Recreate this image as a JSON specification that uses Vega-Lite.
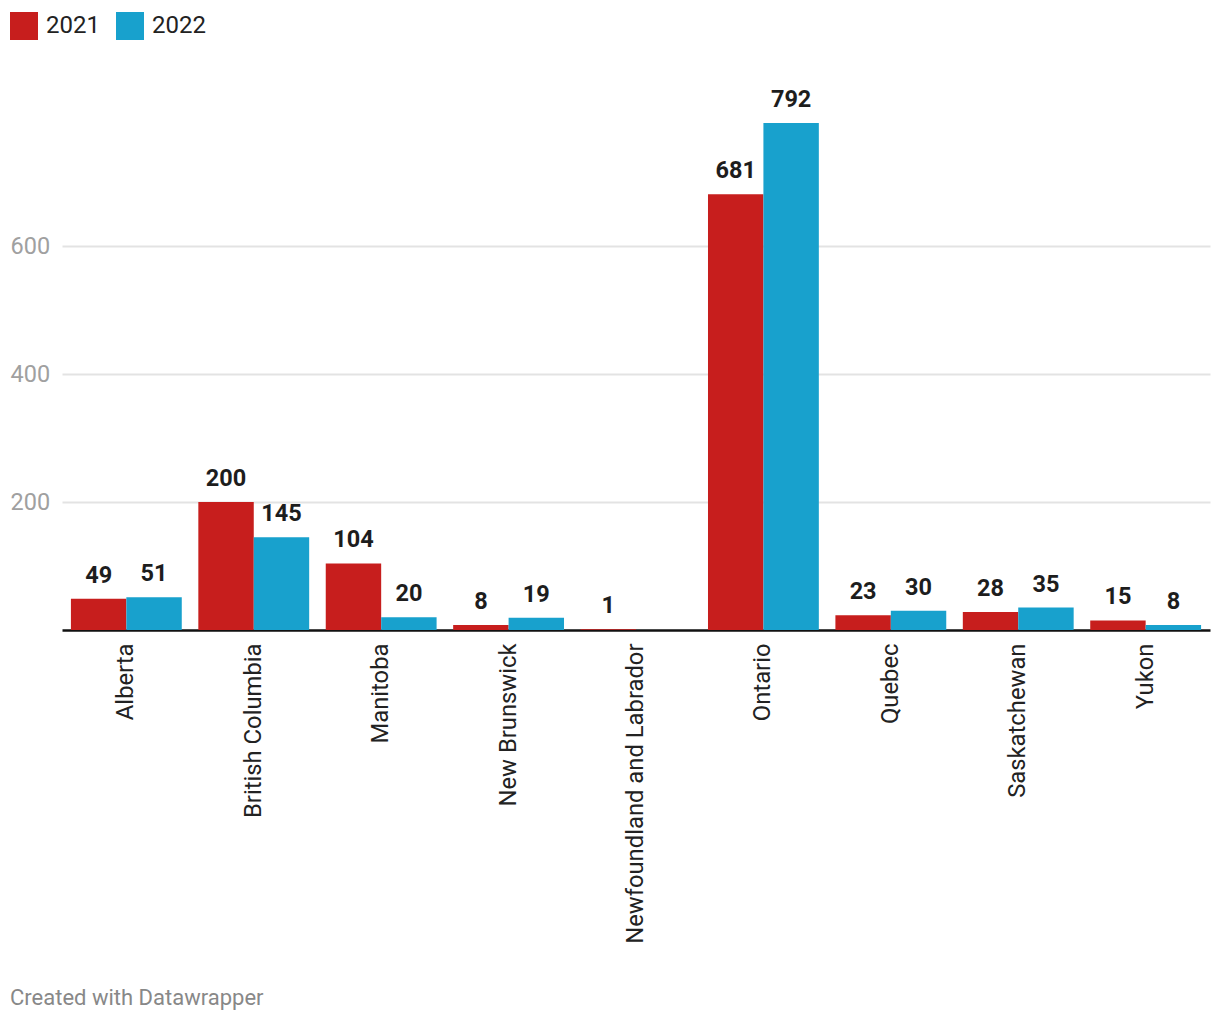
{
  "$schema": "https://vega.github.io/schema/vega-lite/v6.json",
  "autosize": "none",
  "width": 1148,
  "height": 512,
  "padding": {"left": 62, "top": 118, "right": 10, "bottom": 390},
  "background": "white",
  "config": {
    "font": "Roboto",
    "view": {"stroke": null}
  },
  "title": {
    "text": "Created with Datawrapper",
    "orient": "bottom",
    "anchor": "start",
    "frame": "group",
    "dx": -52,
    "offset": 45,
    "fontSize": 22,
    "fontWeight": "normal",
    "color": "#888888",
    "font": "Roboto"
  },
  "data": {
    "values": [
      {"province": "Alberta", "year": "2021", "value": 49},
      {"province": "Alberta", "year": "2022", "value": 51},
      {"province": "British Columbia", "year": "2021", "value": 200},
      {"province": "British Columbia", "year": "2022", "value": 145},
      {"province": "Manitoba", "year": "2021", "value": 104},
      {"province": "Manitoba", "year": "2022", "value": 20},
      {"province": "New Brunswick", "year": "2021", "value": 8},
      {"province": "New Brunswick", "year": "2022", "value": 19},
      {"province": "Newfoundland and Labrador", "year": "2021", "value": 1},
      {"province": "Ontario", "year": "2021", "value": 681},
      {"province": "Ontario", "year": "2022", "value": 792},
      {"province": "Quebec", "year": "2021", "value": 23},
      {"province": "Quebec", "year": "2022", "value": 30},
      {"province": "Saskatchewan", "year": "2021", "value": 28},
      {"province": "Saskatchewan", "year": "2022", "value": 35},
      {"province": "Yukon", "year": "2021", "value": 15},
      {"province": "Yukon", "year": "2022", "value": 8}
    ]
  },
  "encoding": {
    "x": {
      "field": "province",
      "type": "nominal",
      "sort": null,
      "scale": {"paddingInner": 0.13, "paddingOuter": 0.07},
      "axis": {
        "title": null,
        "labelAngle": -90,
        "labelAlign": "right",
        "labelBaseline": "middle",
        "labelFontSize": 23.8,
        "labelColor": "#222222",
        "labelPadding": 13,
        "ticks": false,
        "tickSize": 0,
        "domainColor": "#111111",
        "domainWidth": 2.5,
        "labelLimit": 400
      }
    },
    "xOffset": {"field": "year", "type": "nominal"},
    "y": {
      "field": "value",
      "type": "quantitative",
      "scale": {"domain": [0, 800], "nice": false},
      "axis": {
        "title": null,
        "values": [200, 400, 600],
        "labelAlign": "left",
        "labelPadding": 52,
        "tickSize": 0,
        "ticks": false,
        "domain": false,
        "labelFontSize": 23.5,
        "labelColor": "#a0a0a0",
        "gridColor": "#e3e3e3",
        "gridWidth": 2
      }
    }
  },
  "layer": [
    {
      "mark": {"type": "bar"},
      "encoding": {
        "color": {
          "field": "year",
          "type": "nominal",
          "scale": {"domain": ["2021", "2022"], "range": ["#c71e1d", "#18a1cd"]},
          "legend": {
            "title": null,
            "orient": "none",
            "direction": "horizontal",
            "legendX": -52,
            "legendY": -106,
            "symbolType": "square",
            "symbolSize": 784,
            "symbolStrokeWidth": 0,
            "symbolOpacity": 1,
            "labelFontSize": 24,
            "labelColor": "#222222",
            "labelOffset": 8,
            "columnPadding": 16
          }
        }
      }
    },
    {
      "mark": {
        "type": "text",
        "baseline": "alphabetic",
        "dy": -16,
        "fontSize": 23.5,
        "fontWeight": "bold",
        "color": "#1d1d1d"
      },
      "encoding": {
        "text": {"field": "value", "type": "quantitative"}
      }
    }
  ]
}
